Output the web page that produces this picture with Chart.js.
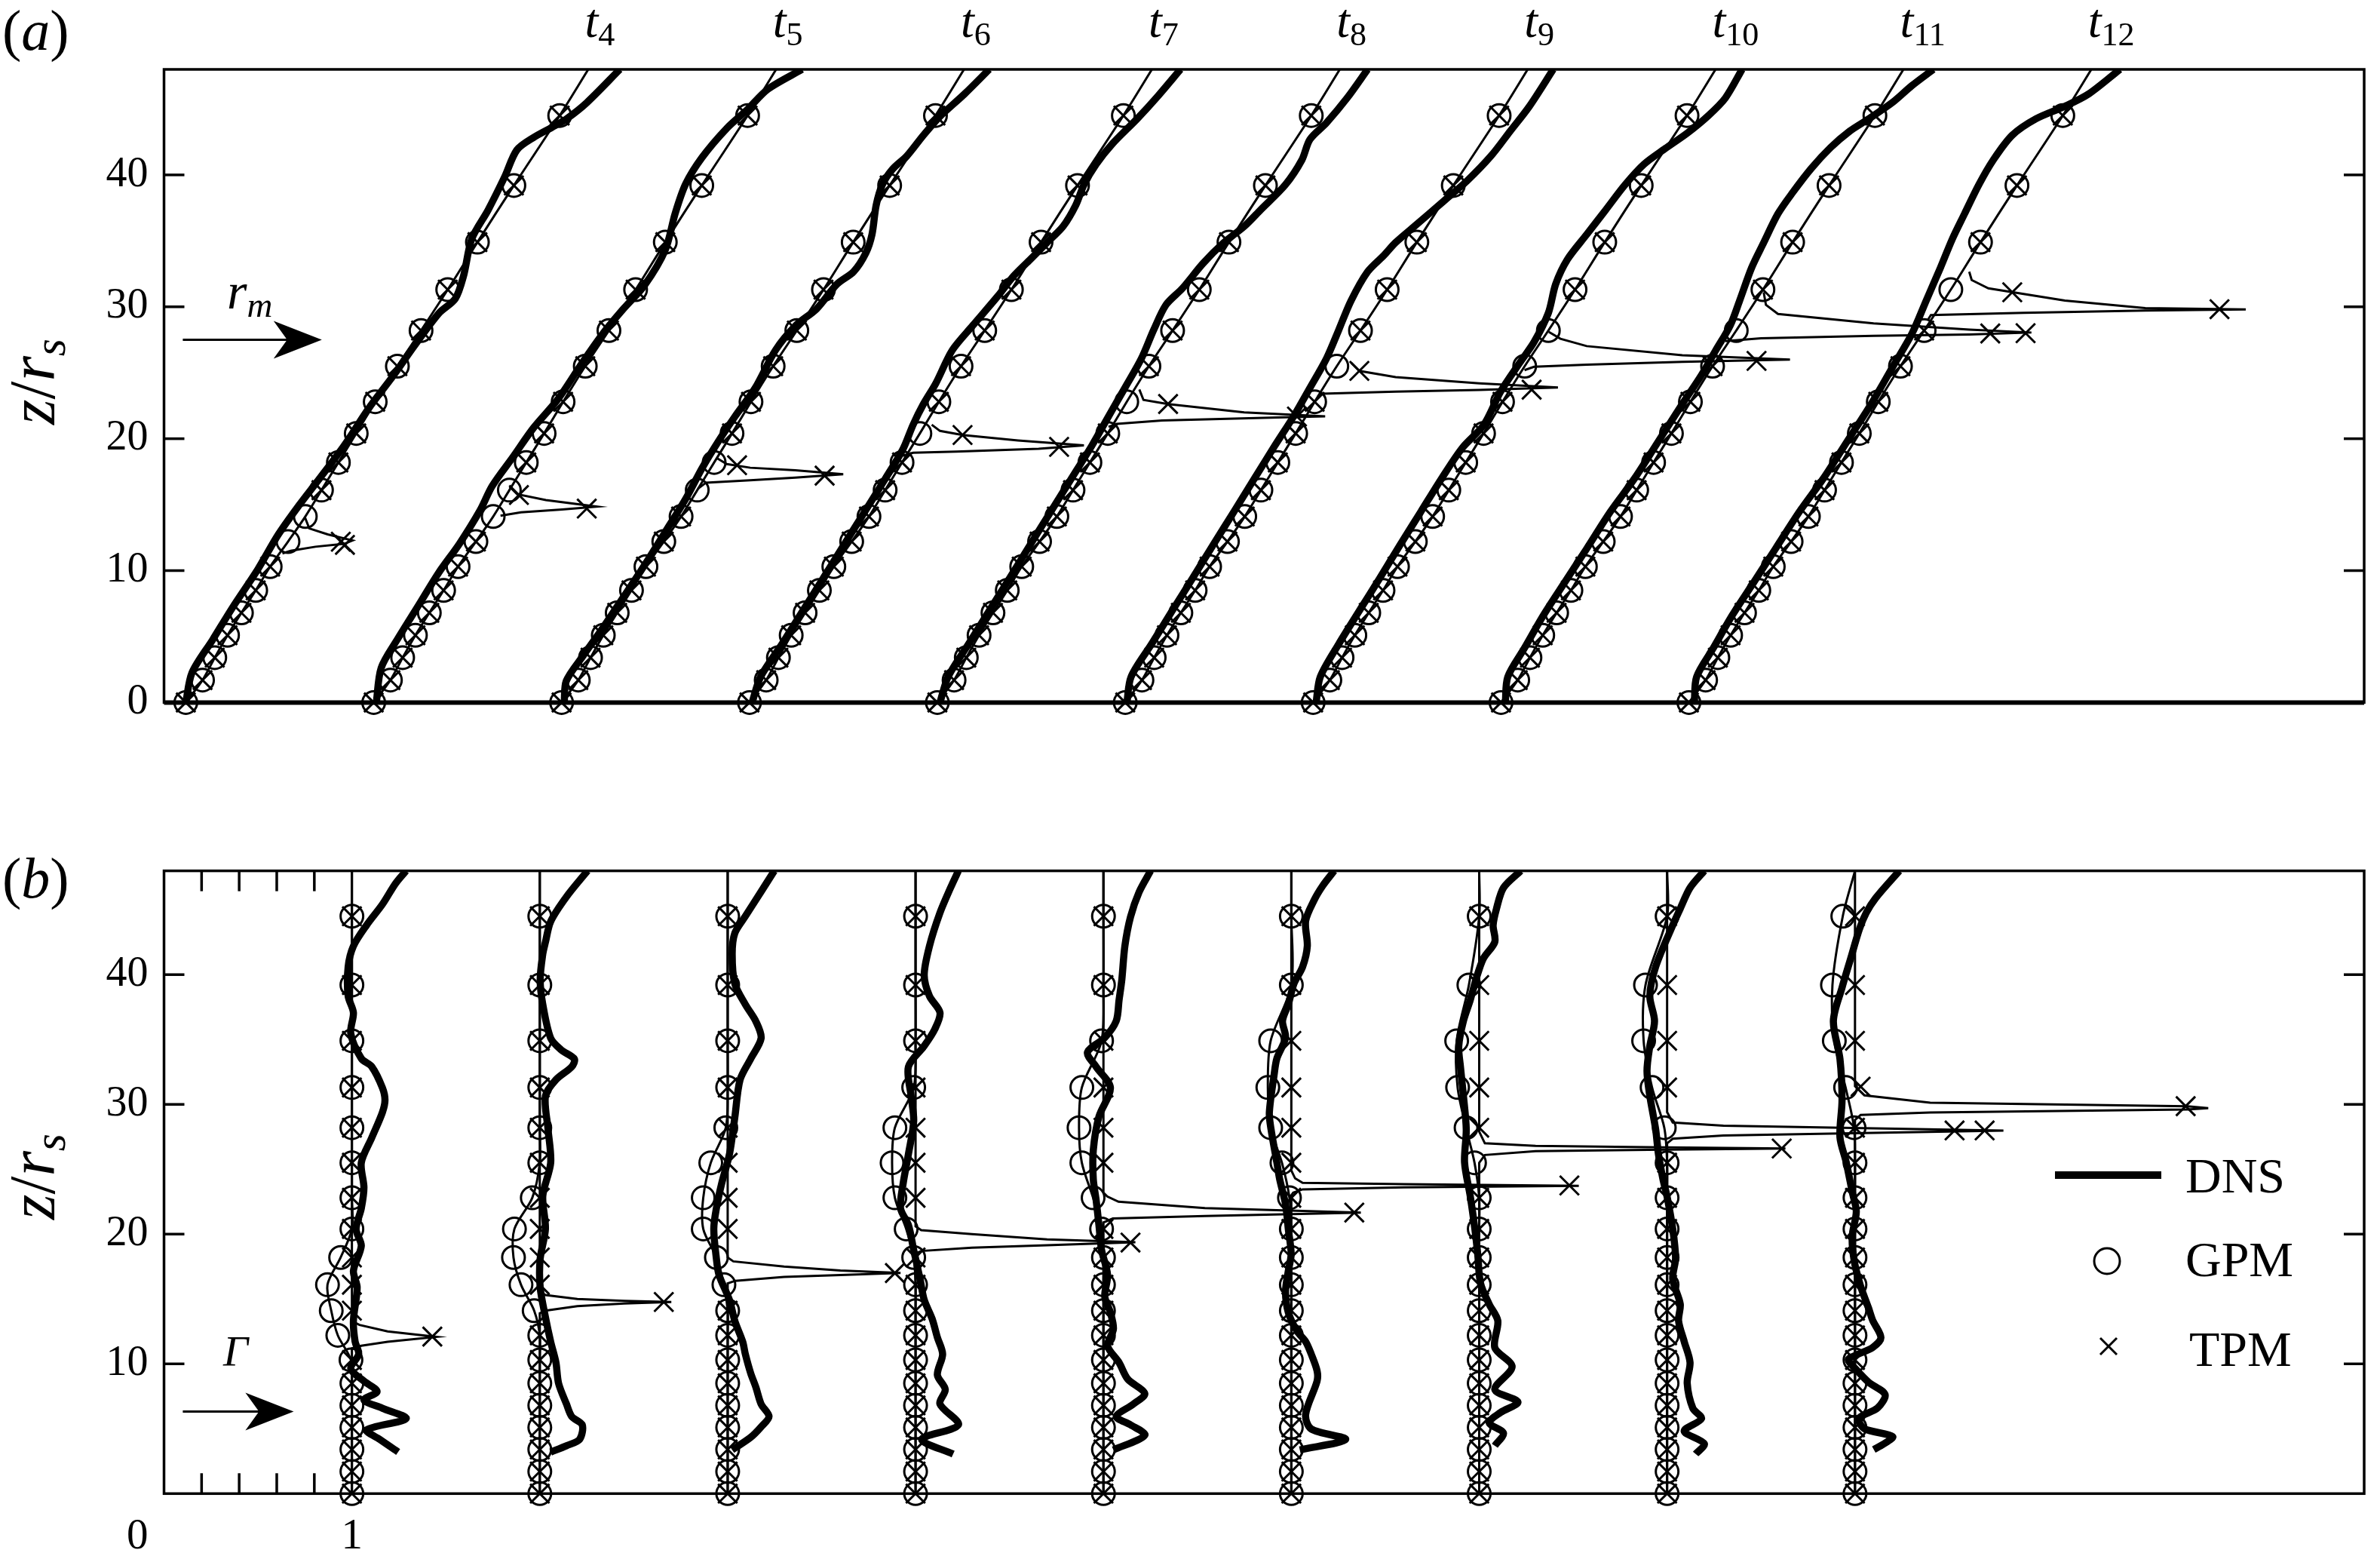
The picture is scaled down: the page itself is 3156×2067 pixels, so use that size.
<!DOCTYPE html>
<html>
<head>
<meta charset="utf-8">
<script src="https://cdn.jsdelivr.net/npm/chart.js@4.4.1/dist/chart.umd.min.js"></script>
<style>
  body { margin: 0; background: #fff; width: 3156px; height: 2067px; position: relative; overflow: hidden;
         font-family: "Liberation Serif", "Times New Roman", serif; color: #000; }
  canvas { position: absolute; left: 0; }
  .lbl { position: absolute; white-space: nowrap; line-height: 1; }
  .sub { font-size: 0.69em; position: relative; top: 0.23em; }
</style>
</head>
<body>
<canvas id="chartA" width="3156" height="1000" style="top:0px"></canvas>
<canvas id="chartB" width="3156" height="967" style="top:1100px"></canvas>
<script>
// times shown, one profile per time, each shifted right by one unit
const tLabels = ['4', '5', '6', '7', '8', '9', '10', '11', '12'];

// z/r_s of the model grid points (markers)
const zGrid = [0, 1.7, 3.4, 5.1, 6.8, 8.5, 10.3, 12.2, 14.1, 16.1, 18.2, 20.4, 22.8, 25.5, 28.2, 31.3, 34.9, 39.2, 44.5];
const zTop = 48;

// ---- panel (a): r_m ----
// GPM reads the same at every time
const gpmA = [0.116, 0.205, 0.27, 0.338, 0.412, 0.488, 0.565, 0.66, 0.752, 0.838, 0.928, 1.023, 1.124, 1.242, 1.368, 1.51, 1.668, 1.862, 2.106];
const gpmATop = 2.258;

const dnsA_t4 = [[0.116,0],[0.149,2.26],[0.259,4.76],[0.368,7.27],[0.499,10.09],[0.609,12.75],[0.718,14.94],[0.828,16.98],[0.959,19.48],[1.09,22.31],[1.222,24.81],[1.331,27.01],[1.463,29.51],[1.55,30.61],[1.594,32.33],[1.638,35.15],[1.725,37.34],[1.813,39.85],[1.878,41.89],[1.966,42.83],[2.065,43.61],[2.141,44.24],[2.251,45.49],[2.426,48]];
const dnsA_t5 = [[0.13,0],[0.156,2.63],[0.244,4.83],[0.353,7.33],[0.462,9.84],[0.572,12.03],[0.681,14.54],[0.747,16.42],[0.857,18.61],[0.966,20.81],[1.097,23],[1.229,25.82],[1.338,28.01],[1.448,29.89],[1.557,31.62],[1.667,34.28],[1.721,37.1],[1.776,39.3],[1.864,41.33],[1.995,43.53],[2.104,44.94],[2.214,46.5],[2.396,48]];
const dnsA_t6 = [[0.13,0],[0.141,1.63],[0.229,3.51],[0.338,5.7],[0.448,8.05],[0.557,10.4],[0.667,12.91],[0.776,15.42],[0.864,17.77],[0.951,19.81],[1.039,21.69],[1.148,23.88],[1.254,26.7],[1.363,28.59],[1.473,29.84],[1.582,31.72],[1.67,32.66],[1.735,34.07],[1.768,35.48],[1.79,37.68],[1.823,39.25],[1.878,40.44],[1.954,41.44],[2.042,43.01],[2.129,44.42],[2.261,46.14],[2.392,48]];
const dnsA_t7 = [[0.13,0],[0.175,1.94],[0.29,4.45],[0.4,6.95],[0.51,9.46],[0.62,11.97],[0.73,14.48],[0.84,16.99],[0.932,19.18],[0.987,21.06],[1.042,22.63],[1.108,24.2],[1.195,26.7],[1.305,28.59],[1.436,30.78],[1.523,32.35],[1.611,33.6],[1.699,34.86],[1.786,36.11],[1.852,37.68],[1.896,39.25],[1.961,40.81],[2.049,42.38],[2.18,44.26],[2.29,45.98],[2.41,48]];
const dnsA_t8 = [[0.13,0],[0.173,1.94],[0.283,4.45],[0.392,6.95],[0.502,9.46],[0.611,11.97],[0.72,14.48],[0.83,16.99],[0.939,19.49],[1.027,21.69],[1.115,23.88],[1.202,26.08],[1.268,28.27],[1.333,30.15],[1.421,31.41],[1.53,33.29],[1.64,34.86],[1.75,36.11],[1.837,37.36],[1.968,39.25],[2.056,41.13],[2.099,42.69],[2.187,43.95],[2.297,45.83],[2.406,48]];
const dnsA_t9 = [[0.125,0],[0.147,1.94],[0.257,4.45],[0.366,6.95],[0.476,9.46],[0.585,11.97],[0.695,14.48],[0.804,16.99],[0.913,19.49],[1.012,21.69],[1.1,23.88],[1.187,26.08],[1.253,28.27],[1.318,30.47],[1.406,32.66],[1.494,33.92],[1.554,34.86],[1.656,36.11],[1.809,37.99],[1.936,39.56],[2.063,41.44],[2.165,43.32],[2.267,45.2],[2.394,48]];
const dnsA_t10 = [[0.132,0],[0.154,1.94],[0.253,4.45],[0.362,6.95],[0.472,9.46],[0.58,11.97],[0.69,14.48],[0.8,16.99],[0.91,19.3],[1.025,21.06],[1.114,23.57],[1.216,25.76],[1.292,27.33],[1.368,29.53],[1.407,31.72],[1.47,33.6],[1.572,35.48],[1.674,37.36],[1.776,39.25],[1.877,40.81],[1.99,42],[2.11,43.2],[2.22,44.5],[2.31,45.83],[2.399,48]];
const dnsA_t11 = [[0.139,0],[0.152,1.94],[0.241,4.13],[0.343,6.64],[0.457,9.15],[0.572,11.66],[0.699,14.48],[0.827,16.99],[0.954,19.81],[1.081,22.63],[1.183,24.83],[1.259,26.7],[1.336,28.59],[1.386,30.47],[1.45,32.97],[1.514,34.86],[1.59,37.05],[1.666,38.62],[1.768,40.5],[1.87,42.07],[1.972,43.32],[2.074,44.26],[2.201,45.51],[2.303,46.77],[2.417,48]];
const dnsA_t12 = [[0.145,0],[0.157,1.94],[0.246,4.13],[0.348,6.64],[0.463,9.15],[0.577,11.66],[0.705,14.48],[0.832,16.99],[0.959,19.81],[1.086,22.63],[1.201,25.45],[1.303,27.96],[1.379,30.47],[1.455,32.97],[1.519,35.17],[1.583,37.05],[1.659,39.25],[1.736,41.13],[1.837,43.01],[1.964,44.26],[2.117,45.2],[2.244,46.14],[2.41,48]];
const dnsA = [dnsA_t4, dnsA_t5, dnsA_t6, dnsA_t7, dnsA_t8, dnsA_t9, dnsA_t10, dnsA_t11, dnsA_t12];

// TPM leaves the GPM curve only near the front: [r, z] from top to bottom
const tpmSpikeA = [
  [[0.751,14.0],[0.773,13.2],[0.871,12.75],[1.003,12.28],[0.959,12.03],[0.806,11.81],[0.675,11.5],[0.63,11.3]],
  [[0.839,16.36],[0.879,15.8],[1.032,15.35],[1.305,14.85],[1.119,14.63],[0.9,14.42],[0.791,14.16]],
  [[0.94,18.55],[0.995,18.08],[1.12,17.8],[1.36,17.6],[1.615,17.3],[1.36,17.05],[1.12,16.85],[0.885,16.67],[0.841,16.2]],
  [[1.086,21.06],[1.13,20.59],[1.25,20.28],[1.545,19.87],[1.896,19.49],[1.655,19.24],[1.217,19.02],[0.987,18.93],[0.932,18.71]],
  [[1.191,23.73],[1.213,22.94],[1.344,22.63],[1.749,22.0],[2.18,21.69],[1.968,21.63],[1.312,21.38],[1.071,21.13],[1.027,20.9]],
  [[1.318,25.76],[1.362,25.14],[1.555,24.67],[2.0,24.2],[2.419,23.88],[2.0,23.7],[1.554,23.57],[1.165,23.41],[1.14,23.2]],
  [[1.37,28.1],[1.432,27.58],[1.572,27.02],[2.081,26.33],[2.654,26.0],[2.081,25.83],[1.572,25.61],[1.292,25.45],[1.241,25.2]],
  [[1.514,31.1],[1.526,30.15],[1.59,29.46],[2.099,28.74],[2.608,28.27],[2.939,28.05],[2.608,27.9],[2.099,27.8],[1.5,27.62],[1.31,27.4]],
  [[1.608,32.66],[1.621,32.03],[1.71,31.4],[2.117,30.47],[2.545,29.9],[3.08,29.8],[2.545,29.72],[1.9,29.55],[1.404,29.37],[1.39,29.06]]
];
const tpmCrossA = [
  [[0.941,12.19],[0.963,11.95]],
  [[0.889,15.73],[1.25,14.7]],
  [[1.05,17.99],[1.516,17.2]],
  [[1.25,20.28],[1.764,19.38]],
  [[1.344,22.63],[2.03,21.68]],
  [[1.362,25.14],[2.279,23.72]],
  [[2.476,25.9]],
  [[2.72,27.98],[2.908,28.0]],
  [[1.837,31.1],[2.94,29.82]]
];

// ---- panel (b): Γ ----
const gpmB_t4 = [1,1,1,1,1,1,0.995,0.925,0.89,0.87,0.94,1,1,1,1,1,1,1,1];
const gpmB_t5 = [1,1,1,1,1,1,1,1,0.97,0.9,0.86,0.865,0.96,1,1,1,1,1,1];
const gpmB_t6 = [1,1,1,1,1,1,1,1,1,0.98,0.94,0.87,0.87,0.91,0.99,1,1,1,1];
const gpmB_t7 = [1,1,1,1,1,1,1,1,1,1,0.99,0.95,0.89,0.875,0.89,0.99,1,1,1];
const gpmB_t8 = [1,1,1,1,1,1,1,1,1,1,1,0.99,0.945,0.885,0.87,0.885,0.99,1,1];
const gpmB_t9 = [1,1,1,1,1,1,1,1,1,1,1,1,0.99,0.95,0.89,0.875,0.89,1,1];
const gpmB_t10 = [1,1,1,1,1,1,1,1,1,1,1,1,1,0.975,0.93,0.885,0.88,0.945,1];
const gpmB_t11 = [1,1,1,1,1,1,1,1,1,1,1,1,1,1,0.985,0.92,0.875,0.885,1];
const gpmB_t12 = [1,1,1,1,1,1,1,1,1,1,1,1,1,1,0.995,0.95,0.89,0.88,0.935];
const gpmB = [gpmB_t4, gpmB_t5, gpmB_t6, gpmB_t7, gpmB_t8, gpmB_t9, gpmB_t10, gpmB_t11, gpmB_t12];
const gpmBTop = 1;

// TPM sits on Γ = 1 away from the front
const tpmGridB = [1,1,1,1,1,1,1,1,1,1,1,1,1,1,1,1,1,1,1];
const tpmSpikeB = [
  [[1,13.3],[1.04,13.0],[1.19,12.5],[1.45,12.08],[1.19,11.7],[1.05,11.4],[1,11.2]],
  [[1,15.6],[1.03,15.3],[1.2,15.0],[1.45,14.85],[1.7,14.77],[1.45,14.65],[1.2,14.45],[1.03,14.1],[1,13.9]],
  [[1,18.2],[1.03,17.9],[1.3,17.5],[1.6,17.2],[1.92,17.0],[1.6,16.85],[1.3,16.7],[1.04,16.4],[1,16.2]],
  [[1,20.6],[1.03,20.3],[1.3,20.0],[1.7,19.6],[2.17,19.38],[1.7,19.15],[1.3,18.95],[1.03,18.7],[1,18.5]],
  [[1,23.2],[1.02,22.9],[1.08,22.5],[1.54,22.0],[2.37,21.66],[1.54,21.4],[1.05,21.2],[1,20.9]],
  [[1,24.9],[1.02,24.3],[1.06,23.95],[1.6,23.85],[2.53,23.72],[1.6,23.6],[1.06,23.45],[1.01,23.2],[1,23.0]],
  [[1,27.9],[1.03,27.0],[1.3,26.8],[1.9,26.7],[2.63,26.6],[1.9,26.5],[1.3,26.4],[1.03,26.1],[1,25.5]],
  [[1,29.4],[1.03,28.6],[1.3,28.35],[2.1,28.15],[2.79,27.98],[2.1,27.8],[1.3,27.6],[1.03,27.35],[1,27.0]],
  [[1,31.4],[1.05,30.7],[1.4,30.13],[2.77,29.85],[2.88,29.71],[2.77,29.6],[1.4,29.37],[1.03,29.18],[1,28.8]]
];
const tpmCrossB = [
  [[1.428,12.1]],
  [[1.66,14.77]],
  [[1.89,17.0]],
  [[2.144,19.35]],
  [[2.335,21.66]],
  [[2.48,23.75]],
  [[2.61,26.6]],
  [[2.53,27.99],[2.69,27.99]],
  [[1.03,31.37],[2.76,29.86]]
];

const dnsB_t4 = [[1.246,3.21],[1.148,4.18],[1.078,4.91],[1.288,5.78],[1.162,6.58],[1.064,7.22],[1.134,7.87],[1.064,8.67],[0.994,9.63],[1.036,10.75],[1.017,11.72],[1.008,13.32],[1.028,15.89],[1.008,17.17],[1.05,19.1],[1.022,20.38],[1.05,21.99],[1.064,23.59],[1.05,25.51],[1.106,27.44],[1.162,29.37],[1.176,30.33],[1.162,31.29],[1.106,32.9],[1.05,33.54],[0.994,35.46],[1.008,37.07],[0.98,38.35],[0.98,40.6],[1.008,42.2],[1.078,43.81],[1.162,45.41],[1.232,47.02],[1.288,48]];
const dnsB_t5 = [[1.058,3.2],[1.142,3.69],[1.212,4.18],[1.226,5.3],[1.17,5.94],[1.142,6.9],[1.1,8.5],[1.086,10.1],[1.058,11.7],[1.03,13.6],[1.002,15.9],[1.002,18.1],[1.03,20.4],[1.016,22.95],[1.058,25.5],[1.044,28.08],[1.03,30.65],[1.086,31.9],[1.17,32.9],[1.184,33.5],[1.114,34.2],[1.058,35.1],[1.016,37.7],[1.002,39.6],[1.016,41.6],[1.03,42.5],[1.058,44.1],[1.142,46.0],[1.254,48]];
const dnsB_t6 = [[1.024,3.37],[1.122,4.33],[1.178,5.14],[1.22,5.94],[1.178,6.9],[1.15,8.2],[1.122,9.3],[1.094,10.75],[1.08,11.7],[1.038,13.3],[1.01,14.9],[0.954,16.85],[0.94,18.1],[0.926,20.4],[0.94,22.0],[0.968,23.9],[1.01,26.2],[1.038,29.0],[1.066,31.9],[1.122,33.5],[1.178,35.1],[1.15,36.4],[1.094,37.7],[1.038,39.3],[1.024,41.6],[1.038,43.2],[1.094,44.5],[1.178,46.4],[1.248,48]];
const dnsB_t7 = [[1.2,3.05],[1.032,4.18],[1.228,5.3],[1.13,6.9],[1.158,8.03],[1.116,9.15],[1.144,10.75],[1.116,12.04],[1.088,13.48],[1.046,14.93],[1.024,16.53],[0.99,18.78],[0.962,20.7],[0.92,21.99],[0.934,23.91],[0.962,26.16],[0.99,28.72],[0.976,30.65],[0.962,32.9],[1.046,34.5],[1.102,35.78],[1.13,37.07],[1.074,38.35],[1.046,39.96],[1.074,42.2],[1.13,44.77],[1.186,46.69],[1.228,48]];
const dnsB_t8 = [[1.053,3.37],[1.22,4.5],[1.144,5.3],[1.068,5.94],[1.159,6.9],[1.22,7.71],[1.129,8.83],[1.083,10.1],[1.022,11.4],[1.053,12.68],[1.037,13.96],[1.007,15.2],[1.022,16.85],[0.99,18.78],[0.976,20.7],[0.961,22.63],[0.946,24.23],[0.946,26.48],[0.976,29.05],[1.037,31.29],[0.961,32.9],[0.915,34.02],[1.007,35.14],[1.068,36.43],[1.083,38.03],[1.098,39.64],[1.114,42.2],[1.144,44.45],[1.19,46.37],[1.251,48]];
const dnsB_t9 = [[1.045,3.37],[1.289,4.18],[1.106,4.98],[1.076,6.1],[1.137,8.67],[1.137,9.47],[1.106,10.75],[1.076,11.72],[1.03,12.52],[0.984,13.96],[0.969,15.57],[0.984,17.17],[0.999,18.46],[0.984,20.38],[0.969,22.31],[0.938,24.23],[0.923,25.52],[0.892,28.08],[0.883,29.37],[0.908,32.25],[0.923,33.54],[0.969,35.14],[0.953,36.43],[0.984,37.71],[1.014,39.31],[1.06,40.6],[1.085,42.2],[1.076,44.13],[1.121,45.73],[1.167,46.85],[1.228,48]];
const dnsB_t10 = [[1.083,3.69],[1.129,4.66],[1.053,5.46],[1.114,6.26],[1.206,7.06],[1.083,8.03],[1.175,9.79],[1.083,11.24],[1.099,13.32],[1.053,14.6],[1.007,16.21],[0.992,18.46],[0.977,20.38],[0.952,22.95],[0.922,25.52],[0.931,28.08],[0.916,30.65],[0.9,32.9],[0.891,34.5],[0.916,36.43],[0.952,38.03],[0.983,39.64],[1.022,41.24],[1.083,42.52],[1.074,43.81],[1.092,45.09],[1.129,46.69],[1.221,48]];
const dnsB_t11 = [[1.152,3.05],[1.198,3.85],[1.091,4.82],[1.183,5.78],[1.137,6.58],[1.107,8.51],[1.122,10.11],[1.091,11.72],[1.061,13.32],[1.07,14.6],[1.03,16.53],[1.045,18.14],[1.03,20.38],[0.999,22.95],[0.978,24.23],[0.954,26.16],[0.939,28.08],[0.908,30.65],[0.893,32.57],[0.908,34.5],[0.933,36.43],[0.908,38.35],[0.939,40.6],[1.03,43.81],[1.07,45.09],[1.122,46.69],[1.198,48]];
const dnsB_t12 = [[1.1,3.4],[1.15,3.8],[1.2,4.4],[1.05,5.0],[1.02,5.8],[1.12,6.6],[1.16,7.64],[1.072,8.59],[1.007,9.55],[0.964,10.31],[1.007,10.69],[1.094,11.26],[1.138,12.02],[1.094,13.36],[1.072,14.31],[1.029,16.03],[0.996,17.93],[0.985,19.84],[1.007,21.74],[0.985,23.27],[0.953,25.56],[0.92,27.46],[0.931,30.32],[0.92,33.5],[0.885,36.43],[0.931,39.0],[0.977,41.24],[1.023,43.49],[1.06,44.77],[1.11,45.9],[1.236,48]];
const dnsB = [dnsB_t4, dnsB_t5, dnsB_t6, dnsB_t7, dnsB_t8, dnsB_t9, dnsB_t10, dnsB_t11, dnsB_t12];

const yTicks = [10, 20, 30, 40];
const xMinorB = [0.2, 0.4, 0.6, 0.8];
const X_MAX = 11.71;

// ---------- helpers ----------
const shift = (arr, k) => arr.map(([v, z]) => ({x: v + k, y: z}));
const onGrid = (vals, k) => zGrid.map((z, i) => ({x: vals[i] + k, y: z}));

// grid crosses that fall inside the front are replaced by the crosses on the spike
function gridMarks(vals, k, spike) {
  const zs = spike.map(p => p[1]);
  const lo = Math.min(...zs) - 0.1, hi = Math.max(...zs) + 0.1;
  return onGrid(vals, k).filter(p => p.y < lo || p.y > hi);
}

function lineDs(data, width, tension) {
  return {data, showLine: true, borderColor: '#000', borderWidth: width,
          pointRadius: 0, tension, fill: false};
}
function markDs(data, style, radius) {
  return {data, showLine: false, pointStyle: style, pointRadius: radius,
          pointBorderColor: '#000', pointBackgroundColor: 'rgba(0,0,0,0)',
          pointBorderWidth: 3, clip: false};
}

function decorPlugin(o) {
  return {
    id: 'decor',
    afterDraw(chart) {
      const {ctx, chartArea: a, scales: {x, y}} = chart;
      const seg = (x1, y1, x2, y2, w) => {
        ctx.lineWidth = w; ctx.beginPath(); ctx.moveTo(x1, y1); ctx.lineTo(x2, y2); ctx.stroke();
      };
      ctx.save();
      ctx.strokeStyle = '#000';
      ctx.fillStyle = '#000';
      ctx.lineWidth = 3.5;
      ctx.strokeRect(a.left, a.top, a.right - a.left, a.bottom - a.top);
      if (o.baseWidth) seg(a.left, a.bottom, a.right, a.bottom, o.baseWidth);
      yTicks.forEach(v => {
        const p = y.getPixelForValue(v);
        seg(a.left, p, a.left + 27, p, 3.5);
        seg(a.right - 27, p, a.right, p, 3.5);
      });
      (o.xMinor || []).forEach(v => {
        const p = x.getPixelForValue(v);
        seg(p, a.bottom, p, a.bottom - 27, 3.5);
        seg(p, a.top, p, a.top + 27, 3.5);
      });
      if (o.arrow) {
        const [x0, x1, z] = o.arrow;
        const p0 = x.getPixelForValue(x0), p1 = x.getPixelForValue(x1), py = y.getPixelForValue(z);
        seg(p0, py, p1 - 40, py, 3);
        ctx.beginPath();
        ctx.moveTo(p1, py);
        ctx.lineTo(p1 - 64, py - 25);
        ctx.lineTo(p1 - 46, py);
        ctx.lineTo(p1 - 64, py + 25);
        ctx.closePath();
        ctx.fill();
      }
      if (o.legend) {
        const lx = a.right - 410;
        seg(lx, 458, lx + 141, 458, 10);
        ctx.lineWidth = 3;
        ctx.beginPath(); ctx.arc(lx + 69, 572, 17, 0, Math.PI * 2); ctx.stroke();
        seg(lx + 60, 674, lx + 82, 696, 3);
        seg(lx + 60, 696, lx + 82, 674, 3);
      }
      ctx.restore();
    }
  };
}

function makeChart(id, datasets, cfg) {
  return new Chart(document.getElementById(id), {
    type: 'scatter',
    data: {datasets},
    options: {
      responsive: false,
      animation: false,
      devicePixelRatio: 1,
      events: [],
      layout: {padding: cfg.padding},
      plugins: {legend: {display: false}, tooltip: {enabled: false}},
      scales: {
        x: {
          type: 'linear', min: 0, max: X_MAX, display: cfg.xDisplay,
          grid: {display: false, drawTicks: false}, border: {display: false},
          afterBuildTicks: s => { s.ticks = cfg.xTicks.map(v => ({value: v})); },
          afterFit: s => { s.height = cfg.xHeight; },
          ticks: {padding: 24, maxRotation: 0, font: {size: 57}, color: '#000'}
        },
        y: {
          type: 'linear', min: 0, max: zTop,
          grid: {display: false, drawTicks: false}, border: {display: false},
          afterBuildTicks: s => { s.ticks = cfg.yLabels.map(v => ({value: v})); },
          afterFit: s => { s.width = 217.5; },
          ticks: {padding: 21, font: {size: 56}, color: '#000'}
        }
      }
    },
    plugins: [decorPlugin(cfg.decor)]
  });
}

Chart.defaults.font.family = '"Liberation Serif", "Times New Roman", serif';

// ---------- panel (a) ----------
const dsA = [];
tLabels.forEach((t, k) => {
  dsA.push(lineDs(shift(dnsA[k], k), 9.5, 0.3));
  dsA.push(lineDs([...onGrid(gpmA, k), {x: gpmATop + k, y: zTop}], 3, 0.3));
  dsA.push(markDs(onGrid(gpmA, k), 'circle', 15));
  dsA.push(lineDs(shift(tpmSpikeA[k], k), 3, 0));
  dsA.push(markDs([...gridMarks(gpmA, k, tpmSpikeA[k]), ...shift(tpmCrossA[k], k)], 'crossRot', 18));
});
const chartA = makeChart('chartA', dsA, {
  padding: {top: 92, bottom: 68.6, left: 0, right: 4},
  xDisplay: false, xTicks: [], xHeight: 0,
  yLabels: [0, 10, 20, 30, 40],
  decor: {baseWidth: 6, arrow: [0.10, 0.84, 27.5]}
});

// ---------- panel (b) ----------
const dsB = [];
tLabels.forEach((t, k) => {
  const spike = tpmSpikeB[k];
  dsB.push(lineDs([{x: tpmGridB[0] + k, y: zTop}, ...shift(spike, k), {x: tpmGridB[0] + k, y: 0}], 3, 0));
  dsB.push(lineDs([...onGrid(gpmB[k], k), {x: gpmBTop + k, y: zTop}], 3, 0.3));
  dsB.push(markDs(onGrid(gpmB[k], k), 'circle', 15));
  dsB.push(markDs([...gridMarks(tpmGridB, k, spike), ...shift(tpmCrossB[k], k)], 'crossRot', 18));
  dsB.push(lineDs(shift(dnsB[k], k), 9.5, 0.3));
});
const chartB = makeChart('chartB', dsB, {
  padding: {top: 40, bottom: 0, left: 0, right: 4},
  xDisplay: true, xTicks: [1], xHeight: 86.7,
  yLabels: yTicks,
  decor: {xMinor: xMinorB, arrow: [0.10, 0.69, 6.33], legend: true}
});

// ---------- text ----------
function addText(html, left, baseline, size) {
  const d = document.createElement('div');
  d.className = 'lbl';
  d.style.left = left + 'px';
  d.style.top = (baseline - 0.8375 * size) + 'px';
  d.style.fontSize = size + 'px';
  d.innerHTML = html;
  document.body.appendChild(d);
  return d;
}
function addRotated(html, cx, cy, size) {
  const d = addText(html, cx, cy, size);
  d.style.top = cy + 'px';
  d.style.transform = 'translate(-50%, -50%) rotate(-90deg)';
  return d;
}

addText('(<i>a</i>)', 3, 66, 76);
addText('(<i>b</i>)', 3, 1190, 76);
tLabels.forEach((t, k) => {
  addText(`<i>t</i><span class="sub">${t}</span>`, chartA.scales.x.getPixelForValue(k + 2.24), 50, 64);
});
addRotated('<i>z</i>/<i>r</i><span class="sub"><i>s</i></span>', 43, 506, 86);
addRotated('<i>z</i>/<i>r</i><span class="sub"><i>s</i></span>', 43, 1560, 86);
addText('<i>r</i><span class="sub"><i>m</i></span>', 301, 409, 68);
addText('<i>Γ</i>', 296, 1812, 58);
addText('0', 168, 2053, 57);
addText('DNS', 2898, 1581, 66);
addText('GPM', 2898, 1692, 66);
addText('TPM', 2903, 1811, 66);
</script>
</body>
</html>
